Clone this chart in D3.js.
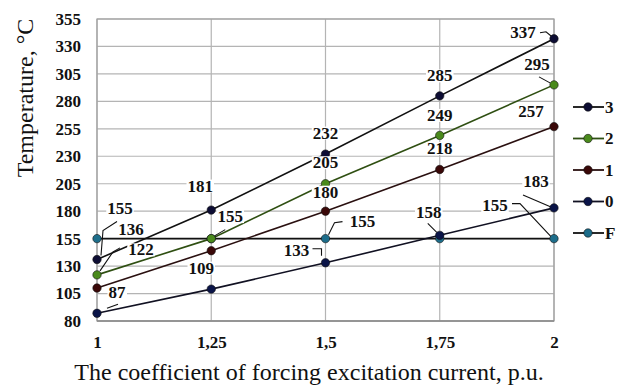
<!DOCTYPE html>
<html>
<head>
<meta charset="utf-8">
<script src="https://cdn.jsdelivr.net/npm/d3@7"></script>
<style>
  html, body { margin: 0; padding: 0; background: #fff; }
  svg { display: block; }
</style>
</head>
<body>
<svg id="chart" width="624" height="385"></svg>
<script>
// ---- data ----
const xValues = [1, 1.25, 1.5, 1.75, 2];
const xTickLabels = ["1", "1,25", "1,5", "1,75", "2"];
const yTicks = [80, 105, 130, 155, 180, 205, 230, 255, 280, 305, 330, 355];
const seriesNames = ["3", "2", "1", "0", "F"];
const series3 = [136, 181, 232, 285, 337];
const series2 = [122, 155, 205, 249, 295];
const series1 = [110, 144, 180, 218, 257];
const series0 = [87, 109, 133, 158, 183];
const seriesF = [155, 155, 155, 155, 155];
const yTitle = "Temperature, °C";
const xTitle = "The coefficient of forcing excitation current, p.u.";

// ---- styling / layout ----
const seriesValues = [series3, series2, series1, series0, seriesF];
const dotColors = ["#0d0d33", "#4a8a1c", "#3a0808", "#0a1448", "#1d6d8a"];
const lineColors = ["#111111", "#2f4f12", "#2a1010", "#111122", "#111111"];
const FONT = "'Liberation Serif', 'Times New Roman', Times, serif";

// label placements: [seriesIndex, pointIndex, labelDx, labelDy, leader offsets (relative to point)]
const labelLayout = [
  [0, 0, 34, -30, [[4, -4], [6, -29], [20, -38]]],
  [0, 1, -11, -24, null],
  [0, 2, 0, -21, null],
  [0, 3, 0, -20, null],
  [0, 4, -31, -6, [[-14, -6], [-8, -7], [-2, -2]]],
  [1, 0, 44, -25, [[3, -4], [16, -23], [23, -27]]],
  [1, 1, 19, -22, [[2, -2], [14, -9]]],
  [1, 2, 0, -21, null],
  [1, 3, 0, -20, null],
  [1, 4, -17, -20, [[-15, -8], [-4, -2]]],
  [2, 2, 0, -19, null],
  [2, 3, 0, -21, null],
  [2, 4, -23, -15, null],
  [3, 0, 20, -21, [[10, -5], [21, -9]]],
  [3, 1, -10, -21, null],
  [3, 2, -29, -12, [[-13, -14], [-4, -14], [-4, -7]]],
  [3, 3, -11, -23, [[-12, -12], [-3, -3]]],
  [3, 4, -18, -26, [[-31, -13], [-3, -1]]],
  [4, 0, 23, -30, null],
  [4, 2, 37, -17, [[3, -4], [9, -16], [17, -17]]],
  [4, 4, -59, -33, [[-42, -35], [-34, -35], [-3, -2]]]
];

const svg = d3.select("#chart");
const plot = { left: 97, right: 554, top: 19, bottom: 321 };

const x = d3.scaleLinear().domain([1, 2]).range([plot.left, plot.right]);
const y = d3.scaleLinear().domain([80, 355]).range([plot.bottom, plot.top]);

// grid
const grid = svg.append("g");
grid.selectAll("line.h").data(yTicks).join("line")
  .attr("x1", plot.left).attr("x2", plot.right)
  .attr("y1", d => y(d)).attr("y2", d => y(d))
  .attr("stroke", "#b4b4b4").attr("stroke-width", 1.2);
grid.selectAll("line.v").data(xValues).join("line")
  .attr("x1", d => x(d)).attr("x2", d => x(d))
  .attr("y1", plot.top).attr("y2", plot.bottom)
  .attr("stroke", "#b4b4b4").attr("stroke-width", 1.2);
grid.append("rect")
  .attr("x", plot.left).attr("y", plot.top)
  .attr("width", plot.right - plot.left).attr("height", plot.bottom - plot.top)
  .attr("fill", "none").attr("stroke", "#a0a0a0").attr("stroke-width", 1.2);
grid.append("line")
  .attr("x1", plot.left).attr("x2", plot.right)
  .attr("y1", plot.bottom).attr("y2", plot.bottom)
  .attr("stroke", "#8a8a8a").attr("stroke-width", 1.5);

// axes (tick labels via d3 axes)
const yAxis = d3.axisLeft(y).tickValues(yTicks).tickSize(0).tickPadding(16).tickFormat(d3.format("d"));
const gy = svg.append("g").attr("transform", `translate(${plot.left},0)`).call(yAxis);
gy.select(".domain").remove();
gy.attr("font-family", FONT);
gy.selectAll("text").attr("font-family", FONT).attr("font-size", 17).attr("font-weight", "bold").attr("fill", "#111");

const xAxis = d3.axisBottom(x).tickValues(xValues).tickSize(0).tickPadding(15)
  .tickFormat((d, i) => xTickLabels[i]);
const gx = svg.append("g").attr("transform", `translate(0,${plot.bottom})`).call(xAxis);
gx.select(".domain").remove();
gx.attr("font-family", FONT);
gx.selectAll("text").attr("font-family", FONT).attr("font-size", 17).attr("font-weight", "bold").attr("fill", "#111");

// titles
svg.append("text")
  .attr("transform", `translate(25,98) rotate(-90)`)
  .attr("text-anchor", "middle").attr("dominant-baseline", "central")
  .attr("font-family", FONT).attr("font-size", 24).attr("fill", "#111")
  .text(yTitle);
svg.append("text")
  .attr("x", 309).attr("y", 372)
  .attr("text-anchor", "middle").attr("dominant-baseline", "central")
  .attr("font-family", FONT).attr("font-size", 24).attr("fill", "#111")
  .text(xTitle);

// lines
const line = d3.line().x((d, i) => x(xValues[i])).y(d => y(d));
const order = [4, 3, 2, 1, 0];
order.forEach(s => {
  svg.append("path").datum(seriesValues[s])
    .attr("d", line).attr("fill", "none")
    .attr("stroke", lineColors[s]).attr("stroke-width", 1.6);
});

// leaders
const labG = svg.append("g");
labelLayout.forEach(([s, i, dx, dy, leader]) => {
  const px = x(xValues[i]), py = y(seriesValues[s][i]);
  if (leader) {
    labG.append("path")
      .attr("d", d3.line()(leader.map(([a, b]) => [px + a, py + b])))
      .attr("fill", "none").attr("stroke", "#111").attr("stroke-width", 1.1);
  }
});
// markers
order.forEach(s => {
  svg.append("g").selectAll("circle").data(seriesValues[s]).join("circle")
    .attr("cx", (d, i) => x(xValues[i])).attr("cy", d => y(d)).attr("r", 4.2)
    .attr("fill", dotColors[s]).attr("stroke", "#111").attr("stroke-width", 0.6);
});
// labels
const labT = svg.append("g");
labelLayout.forEach(([s, i, dx, dy]) => {
  const px = x(xValues[i]), py = y(seriesValues[s][i]);
  const g = labT.append("g");
  const t = g.append("text")
    .attr("x", px + dx).attr("y", py + dy)
    .attr("text-anchor", "middle").attr("dominant-baseline", "central")
    .attr("font-family", FONT).attr("font-size", 17).attr("font-weight", "bold").attr("fill", "#111")
    .text(seriesValues[s][i]);
  const bb = t.node().getBBox();
  g.insert("rect", "text")
    .attr("x", bb.x - 1).attr("y", bb.y + 3).attr("width", bb.width + 2).attr("height", bb.height - 6)
    .attr("fill", "#fff");
});

// legend
const legend = svg.append("g");
seriesNames.forEach((name, k) => {
  const ly = 107 + k * 31.5;
  legend.append("line").attr("x1", 573).attr("x2", 604).attr("y1", ly).attr("y2", ly)
    .attr("stroke", lineColors[k]).attr("stroke-width", 1.8);
  legend.append("circle").attr("cx", 588).attr("cy", ly).attr("r", 4.2)
    .attr("fill", dotColors[k]).attr("stroke", "#111").attr("stroke-width", 0.6);
  legend.append("text").attr("x", 605).attr("y", ly)
    .attr("dominant-baseline", "central")
    .attr("font-family", FONT).attr("font-size", 17).attr("font-weight", "bold").attr("fill", "#111")
    .text(name);
});
</script>
</body>
</html>
